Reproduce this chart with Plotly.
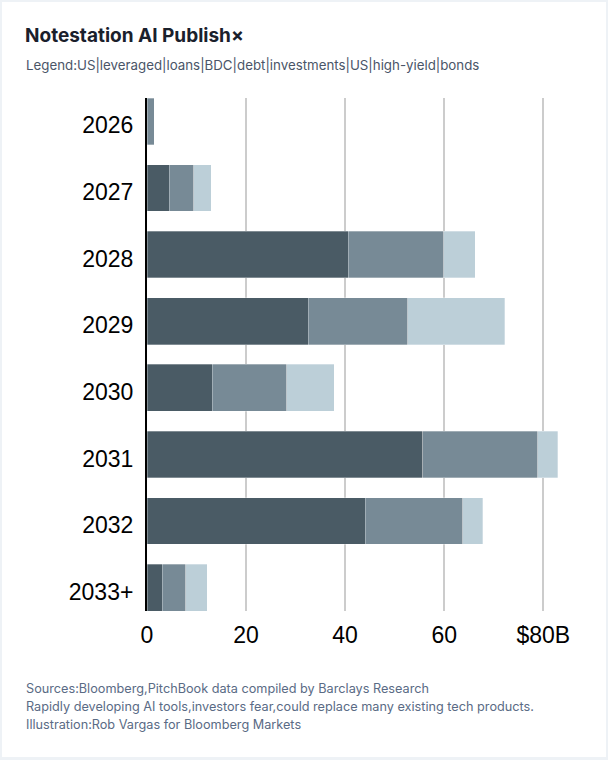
import plotly.graph_objects as go

years = ["2026", "2027", "2028", "2029", "2030", "2031", "2032", "2033+"]
us_leveraged_loans = [0, 4.5, 40.6, 32.6, 13.2, 55.7, 44.1, 3.1]
bdc_debt_investments = [1.5, 4.9, 19.3, 20.0, 15.0, 23.2, 19.6, 4.7]
us_high_yield_bonds = [0, 3.6, 6.4, 19.6, 9.6, 4.0, 4.1, 4.4]
x_tick_vals = [0, 20, 40, 60, 80]
x_tick_text = ["0", "20", "40", "60", "$80B"]

series = [
    ("US leveraged loans", us_leveraged_loans, "#4a5b65"),
    ("BDC debt investments", bdc_debt_investments, "#778a96"),
    ("US high-yield bonds", us_high_yield_bonds, "#bccfd8"),
]

W, H = 608, 760
L, R, T, B = 147, 40, 98, 149
pw, ph = W - L - R, H - T - B


def px(x):
    return (x - L) / pw


def py(y):
    return (H - B - y) / ph


fig = go.Figure()
for name, vals, color in series:
    fig.add_trace(go.Bar(
        y=years, x=vals, name=name, orientation="h",
        marker=dict(color=color, line=dict(width=0.5, color="rgba(255,255,255,0.6)")),
    ))

annotations = [
    dict(text="<b>Notestation AI Publish×</b>", x=px(23), y=py(36), xref="paper", yref="paper",
         xanchor="left", yanchor="middle", showarrow=False,
         font=dict(family="Inter, Noto Sans, sans-serif", size=19, color="#1a202c")),
    dict(text="Legend:US|leveraged|loans|BDC|debt|investments|US|high-yield|bonds",
         x=px(24), y=py(65), xref="paper", yref="paper",
         xanchor="left", yanchor="middle", showarrow=False,
         font=dict(family="Inter, Noto Sans, sans-serif", size=13.3, color="#4a5568")),
]
footer = [
    "Sources:Bloomberg,PitchBook data compiled by Barclays Research",
    "Rapidly developing AI tools,investors fear,could replace many existing tech products.",
    "Illustration:Rob Vargas for Bloomberg Markets",
]
for i, line in enumerate(footer):
    annotations.append(dict(text=line, x=px(24), y=py(688 + 18 * i), xref="paper", yref="paper",
                            xanchor="left", yanchor="middle", showarrow=False,
                            font=dict(family="Inter, Noto Sans, sans-serif", size=12.7, color="#5a6b85")))

fig.update_layout(
    width=W, height=H,
    margin=dict(l=L, r=R, t=T, b=B, pad=0),
    barmode="stack", bargap=0.3, showlegend=False,
    paper_bgcolor="#eef2f6", plot_bgcolor="#ffffff",
    annotations=annotations,
    shapes=[dict(type="rect", xref="paper", yref="paper", layer="below",
                 x0=px(2), x1=px(606), y0=py(757), y1=py(2),
                 fillcolor="#ffffff", line=dict(width=0))],
    xaxis=dict(range=[0, 85], tickvals=x_tick_vals, ticktext=x_tick_text,
               showgrid=True, gridcolor="#cccccc", gridwidth=2, zeroline=False,
               showline=False, ticks="", ticklabelstandoff=8,
               tickfont=dict(family="Liberation Sans, Arial, sans-serif", size=23, color="#000000")),
    yaxis=dict(autorange=False, range=[7.35, -0.35], type="category",
               showgrid=False, zeroline=False, showline=True, linecolor="#000000", linewidth=2,
               ticks="", ticklabelstandoff=7, ticklabelshift=-4,
               tickfont=dict(family="Liberation Sans, Arial, sans-serif", size=23, color="#000000")),
)

fig.write_html("out.html", config={"displayModeBar": False},
               post_script="document.body.style.margin='0';")
